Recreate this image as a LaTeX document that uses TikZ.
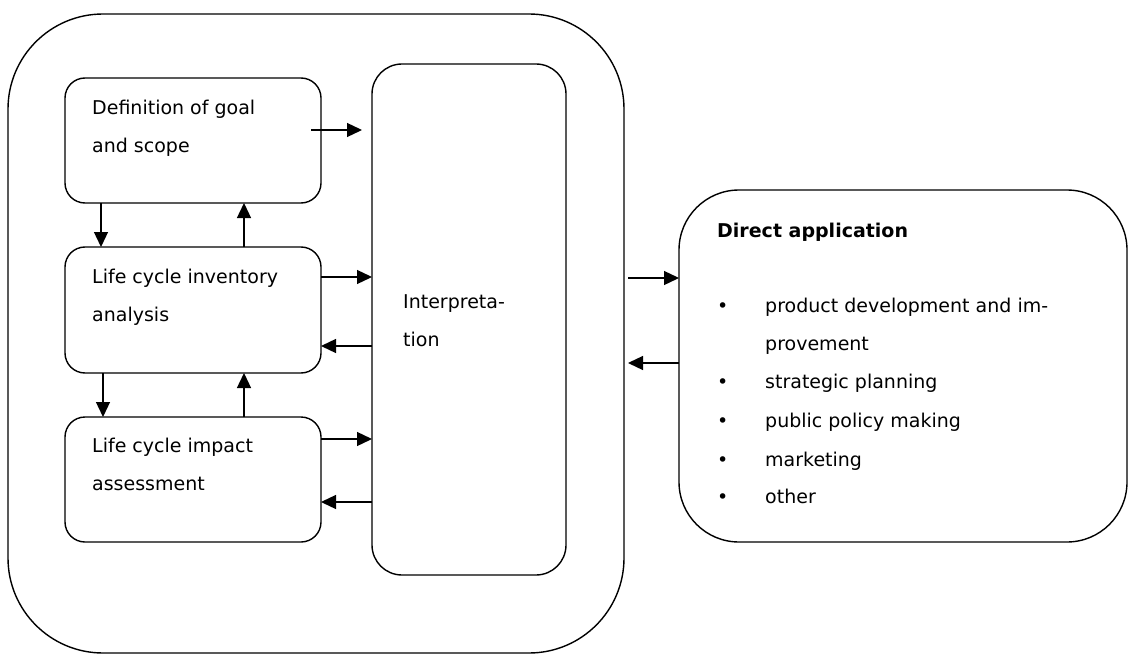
\documentclass[tikz,border=0pt]{standalone}
\usepackage{fontspec}
\setmainfont{DejaVu Sans}
\usetikzlibrary{arrows.meta}
\begin{document}
\begin{tikzpicture}[x=1pt,y=-1pt,
  box/.style={draw, line width=1.4pt, inner sep=0pt, outer sep=0pt},
  txt/.style={anchor=base west, inner sep=0pt, font=\fontsize{19}{23}\selectfont},
  arr/.style={line width=1.3pt, -{Triangle[length=15pt,width=14pt]}}]
\useasboundingbox (0,0) rectangle (1129,655);
% boxes
\node[box, minimum width=616pt, minimum height=639pt, rounded corners=95pt] (outer) at (316,333.5) {};
\node[box, minimum width=256pt, minimum height=125pt, rounded corners=20pt] (def) at (193,140.5) {};
\node[box, minimum width=256pt, minimum height=126pt, rounded corners=20pt] (lci) at (193,310) {};
\node[box, minimum width=256pt, minimum height=125pt, rounded corners=20pt] (lcia) at (193,479.5) {};
\node[box, minimum width=194pt, minimum height=511pt, rounded corners=30pt] (interp) at (469,319.5) {};
\node[box, minimum width=448pt, minimum height=352pt, rounded corners=60pt] (direct) at (903,366) {};
% texts
\node[txt] (t1) at (92,115) {Definition of goal};
\node[txt] (t2) at (92,153) {and scope};
\node[txt] (t3) at (92,283) {Life cycle inventory};
\node[txt] (t4) at (92,321) {analysis};
\node[txt] (t5) at (92,452) {Life cycle impact};
\node[txt] (t6) at (92,490) {assessment};
\node[txt] (t7) at (403,308) {Interpreta-};
\node[txt] (t8) at (403,346) {tion};
\node[txt, font=\fontsize{19}{23}\selectfont\bfseries] (d0) at (717,237) {Direct application};
\foreach \y/\s [count=\i] in {312/product development and im-, 388/strategic planning, 427/public policy making, 466/marketing, 503/other}{
  \node[txt] (b\i) at (717,\y) {\textbullet};
  \node[txt] (l\i) at (765,\y) {\s};
}
\node[txt] (l0) at (765,350) {provement};
% arrows
\coordinate (c1) at (311,130);
\draw[arr] (c1) -- (c1 -| 362,0);
\draw[arr] (lci.east |- 0,277) -- (interp.west |- 0,277);
\draw[arr] (interp.west |- 0,346) -- (lci.east |- 0,346);
\draw[arr] (lcia.east |- 0,439) -- (interp.west |- 0,439);
\draw[arr] (interp.west |- 0,502) -- (lcia.east |- 0,502);
\draw[arr] (def.south -| 101,0) -- (lci.north -| 101,0);
\draw[arr] (lci.north -| 244,0) -- (def.south -| 244,0);
\draw[arr] (lci.south -| 103,0) -- (lcia.north -| 103,0);
\draw[arr] (lcia.north -| 244,0) -- (lci.south -| 244,0);
\coordinate (c2) at (628,278);
\draw[arr] (c2) -- (direct.west |- c2);
\coordinate (c3) at (628,363);
\draw[arr] (direct.west |- c3) -- (c3);
\end{tikzpicture}
\end{document}
